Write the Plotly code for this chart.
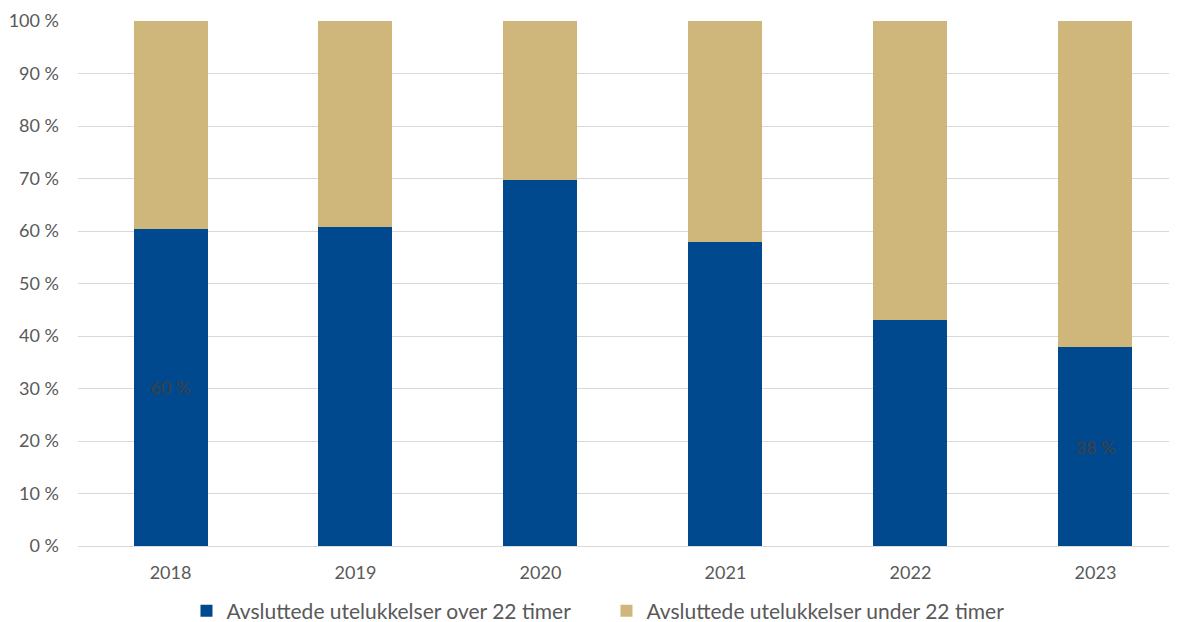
import plotly.graph_objects as go

years = ["2018", "2019", "2020", "2021", "2022", "2023"]
over_22 = [60.4, 60.8, 69.7, 57.9, 43.0, 37.9]
under_22 = [round(100 - v, 1) for v in over_22]
over_labels = ["60 %", "", "", "", "", "38 %"]
y_ticks = [0, 10, 20, 30, 40, 50, 60, 70, 80, 90, 100]
y_ticktext = [f"{t} %" for t in y_ticks]

fig = go.Figure()
fig.add_trace(go.Bar(
    x=years, y=over_22, name="Avsluttede utelukkelser over 22 timer",
    marker=dict(color="#00498F", line=dict(width=0)),
    text=over_labels, textposition="inside", insidetextanchor="middle",
    textfont=dict(color="#404040", size=18, family="Lato"),
    hoverinfo="y",
))
fig.add_trace(go.Bar(
    x=years, y=under_22, name="Avsluttede utelukkelser under 22 timer",
    marker=dict(color="#CFB67A", line=dict(width=0)),
    hoverinfo="y",
))

fig.update_layout(
    width=1177, height=622,
    barmode="stack", bargap=0.6,
    margin=dict(l=70, r=0, t=13, b=84, autoexpand=False),
    plot_bgcolor="white", paper_bgcolor="white",
    font=dict(family="Lato", color="#595959", size=18),
    xaxis=dict(type="category", range=[-0.5, 5.484], showgrid=False,
               ticks="", ticklabelstandoff=14,
               tickfont=dict(size=18, color="#595959")),
    yaxis=dict(range=[0, 100], tickvals=y_ticks, ticktext=y_ticktext,
               showgrid=True, gridcolor="#D9D9D9", gridwidth=1,
               zeroline=True, zerolinecolor="#D9D9D9", zerolinewidth=1,
               ticks="", ticklabelstandoff=18,
               tickfont=dict(size=18, color="#595959")),
    legend=dict(orientation="h", x=0.098, xanchor="left", xref="paper",
                y=-0.124, yanchor="middle", font=dict(size=21, color="#595959"),
                entrywidth=375, entrywidthmode="pixels",
                traceorder="normal"),
    showlegend=True,
)
fig.update_yaxes(automargin=False)
fig.update_xaxes(automargin=False)

fig.write_html("out.html")
